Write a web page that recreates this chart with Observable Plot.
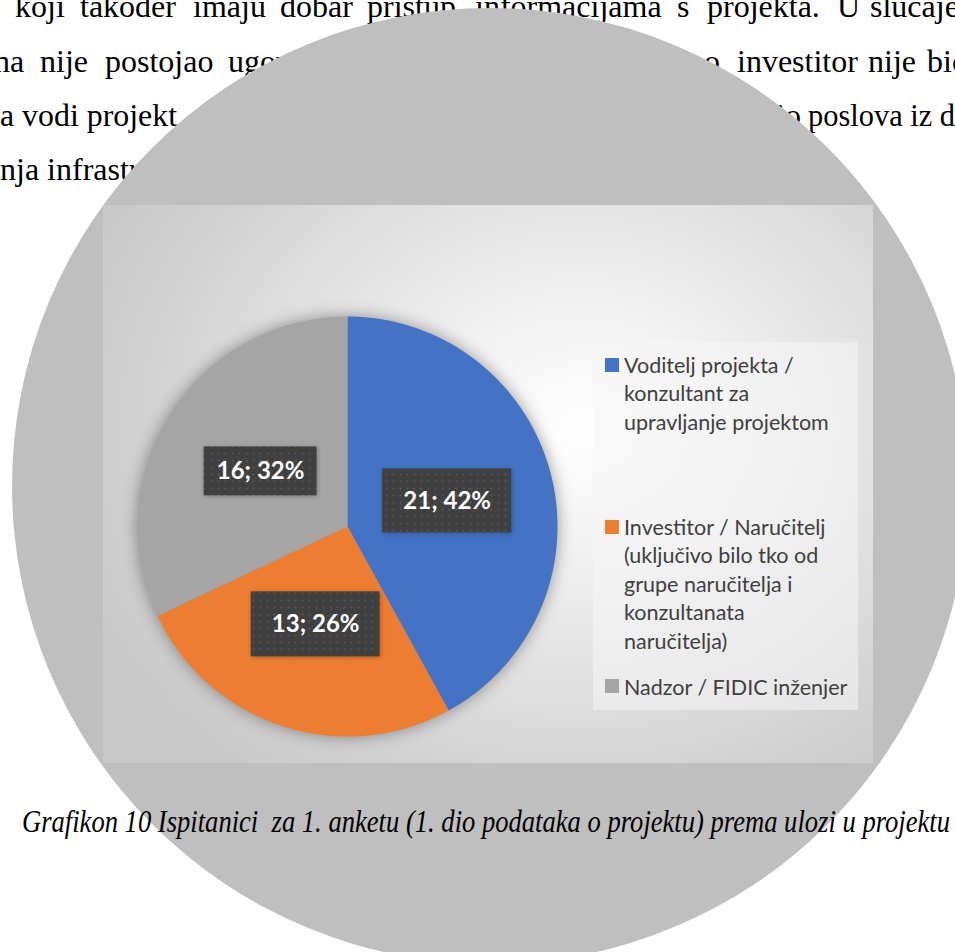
<!DOCTYPE html>
<html>
<head>
<meta charset="utf-8">
<script src="https://cdn.jsdelivr.net/npm/d3@7"></script>
<script src="https://cdn.jsdelivr.net/npm/@observablehq/plot@0.6"></script>
<style>
  html, body { margin: 0; padding: 0; background: #fff; }
  #page { position: relative; width: 955px; height: 952px; overflow: hidden; background: #fff; }
  #bodytext, #captext { position: absolute; left: 0; top: 0; }
  #circle { position: absolute; left: 12px; top: 8px; width: 956px; height: 956px; border-radius: 50%; background: #bfbfbf; }
  #chart { position: absolute; left: 103px; top: 205px; width: 770px; height: 558px; }
  #legendbox { position: absolute; left: 593px; top: 342px; width: 265px; height: 368px; background: rgba(246,246,246,0.55); }
  .lg-item { position: absolute; left: 624px; font-family: Lato, "Open Sans", sans-serif; font-size: 21.5px; line-height: 28.5px; color: #404040; white-space: nowrap; }
  .lg-swatch { position: absolute; left: 605px; width: 14px; height: 14px; }
</style>
</head>
<body>
<div id="page">
  <svg id="bodytext" width="955" height="952"></svg>
  <div id="circle"></div>
  <div id="chart"></div>
  <div id="legendbox"></div>
  <div id="legend"></div>
  <svg id="captext" width="955" height="952"></svg>
</div>
<script>
// ---------- data ----------
const categories = [
  "Voditelj projekta / konzultant za upravljanje projektom",
  "Investitor / Naručitelj (uključivo bilo tko od grupe naručitelja i konzultanata naručitelja)",
  "Nadzor / FIDIC inženjer"
];
const counts = [21, 13, 16];
const percents = [42, 26, 32];
const legendLines = [
  ["Voditelj projekta /", "konzultant za", "upravljanje projektom"],
  ["Investitor / Naručitelj", "(uključivo bilo tko od", "grupe naručitelja i", "konzultanata", "naručitelja)"],
  ["Nadzor / FIDIC inženjer"]
];
const captionText = "Grafikon 10 Ispitanici  za 1. anketu (1. dio podataka o projektu) prema ulozi u projektu";
const bodyWords = [
  ["koji", "također", "imaju", "dobar", "pristup", "informacijama", "s", "projekta.", "U", "slučajevima"],
  ["na", "nije", "postojao", "ugovor", "o", "investitor", "nije", "bio"],
  ["a vodi projekt", "io", "poslova iz d"],
  ["nja infrastrukture"]
];

// ---------- styles / layout ----------
const colors = ["#4472C4", "#ED7D31", "#A5A5A5"];
const boxSizes = [{w: 129, h: 64}, {w: 129, h: 65}, {w: 113, h: 49}];
const W = 770, H = 558, CX = 244, CY = 321, R = 210;

// ---------- background document text ----------
const bodyX = [
  [15, 80, 193, 280, 367, 475, 677, 707, 837, 870],
  [-6, 40, 105, 228, 704, 737, 868, 927],
  [0, 776, 808],
  [0]
];
const bodyLen = [
  [], [], [177, null, 147], []
];
const bodyBase = [17, 72, 126, 180];
const bt = d3.select("#bodytext");
bodyWords.forEach((line, li) => {
  line.forEach((w, wi) => {
    const t = bt.append("text")
      .attr("x", bodyX[li][wi]).attr("y", bodyBase[li])
      .attr("font-family", "'Liberation Serif', 'Times New Roman', serif")
      .attr("font-size", 32).attr("fill", "#000")
      .text(w);
    const L = bodyLen[li][wi];
    if (L) t.attr("textLength", L).attr("lengthAdjust", "spacingAndGlyphs");
  });
});

// ---------- caption ----------
d3.select("#captext").append("text")
  .attr("x", 22).attr("y", 832)
  .attr("font-family", "'Liberation Serif', 'Times New Roman', serif")
  .attr("font-style", "italic").attr("font-size", 31).attr("fill", "#000")
  .attr("textLength", 928).attr("lengthAdjust", "spacingAndGlyphs")
  .attr("xml:space", "preserve")
  .text(captionText);

// ---------- pie chart ----------
const arcs = d3.pie().sort(null).value(d => d)(counts);
const slicePts = [];
arcs.forEach((a, i) => {
  slicePts.push({cat: categories[i], u: 0, v: 0});
  const n = 160;
  for (let k = 0; k <= n; k++) {
    const t = a.startAngle + (a.endAngle - a.startAngle) * k / n;
    slicePts.push({cat: categories[i], u: Math.sin(t), v: Math.cos(t)});
  }
});
const labels = arcs.map((a, i) => {
  const m = (a.startAngle + a.endAngle) / 2;
  return {
    cat: categories[i],
    u: 0.49 * Math.sin(m),
    v: 0.49 * Math.cos(m),
    w: boxSizes[i].w, h: boxSizes[i].h,
    text: `${counts[i]}; ${percents[i]}%`
  };
});

const svg = Plot.plot({
  width: W, height: H, margin: 0,
  x: {domain: [-CX / R, (W - CX) / R], axis: null},
  y: {domain: [-(H - CY) / R, CY / R], axis: null},
  color: {domain: categories, range: colors},
  style: {
    background: "radial-gradient(ellipse 70% 80% at 62% 40%, #ffffff 0%, #f4f4f4 22%, #e2e2e2 55%, #d2d2d2 80%, #c9c9c9 100%)",
    overflow: "visible"
  },
  marks: [
    Plot.line(slicePts, {x: "u", y: "v", z: "cat", fill: "cat", stroke: "none"}),
    Plot.rect(labels, {
      x1: d => d.u - d.w / 2 / R, x2: d => d.u + d.w / 2 / R,
      y1: d => d.v - d.h / 2 / R, y2: d => d.v + d.h / 2 / R,
      fill: "url(#dots)"
    }),
    Plot.text(labels, {
      x: "u", y: "v", text: "text", fill: "white",
      fontSize: 24, fontWeight: "bold", fontFamily: "Lato, 'Open Sans', sans-serif"
    })
  ]
});

const s = d3.select(svg);
const defs = s.insert("defs", ":first-child");
const pat = defs.append("pattern").attr("id", "dots")
  .attr("patternUnits", "userSpaceOnUse").attr("width", 7).attr("height", 7);
pat.append("rect").attr("width", 7).attr("height", 7).attr("fill", "#404040");
pat.append("circle").attr("cx", 3.5).attr("cy", 3.5).attr("r", 1).attr("fill", "#575757");
s.select('g[aria-label="line"]').style("filter", "drop-shadow(0px 0px 8px rgba(0,0,0,0.38))");
s.select('g[aria-label="rect"]').style("filter", "drop-shadow(1px 1px 2px rgba(0,0,0,0.25))");
document.getElementById("chart").appendChild(svg);

// ---------- legend ----------
const legendTop = [350.75, 512.75, 672.75];
const swatchTop = [358, 520, 679];
const lg = d3.select("#legend");
categories.forEach((c, i) => {
  lg.append("div").attr("class", "lg-swatch")
    .style("top", swatchTop[i] + "px").style("background", colors[i]);
  const item = lg.append("div").attr("class", "lg-item").style("top", legendTop[i] + "px");
  legendLines[i].forEach((ln, j) => {
    if (j) item.append("br");
    item.append("span").text(ln);
  });
});
</script>
</body>
</html>
